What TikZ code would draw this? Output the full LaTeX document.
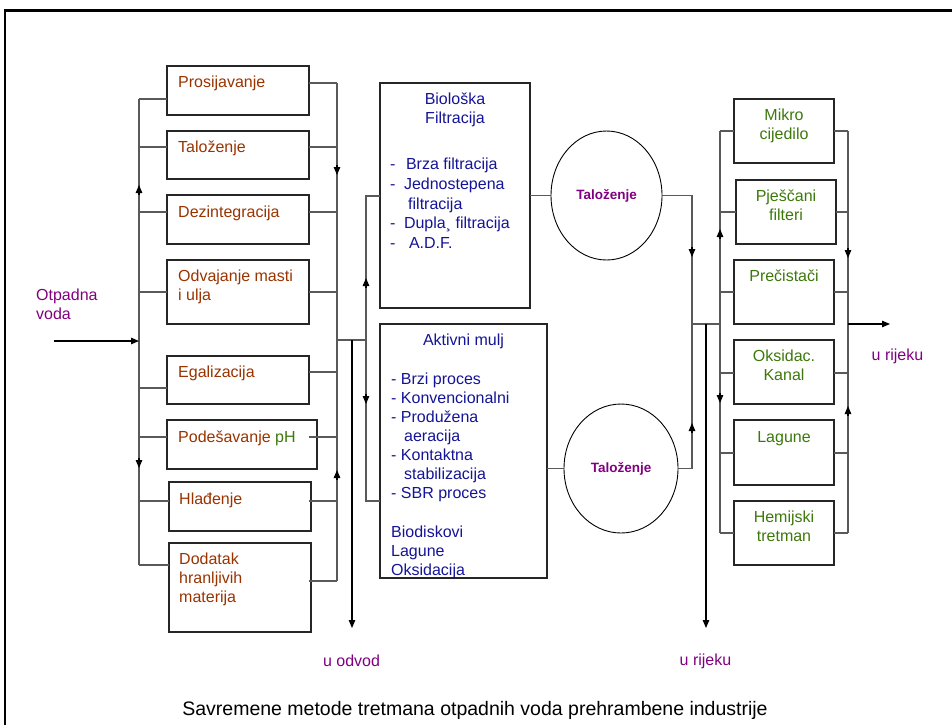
\documentclass[tikz,border=0pt]{standalone}
\usepackage{fontspec}
\setmainfont{Liberation Sans}
\usetikzlibrary{arrows.meta,shapes.geometric}
\definecolor{brn}{RGB}{153,51,0}
\definecolor{grn}{RGB}{60,120,10}
\definecolor{pur}{RGB}{128,0,128}
\definecolor{blu}{RGB}{20,20,150}
\newcommand\tstrut{\rule{0pt}{12pt}}
\begin{document}
\begin{tikzpicture}[x=1pt,y=-1pt,
  box/.style={draw=black!85, line width=1.1pt, inner sep=0pt, outer sep=0pt},
  ell/.style={ellipse, draw=black, line width=0.9pt, inner sep=0pt, outer sep=0pt, text=pur, font=\bfseries\fontsize{13.5}{15}\selectfont},
  conn/.style={draw=black!65, line width=1.1pt},
  arr/.style={draw=black, line width=1.1pt, -{Triangle[length=8pt,width=6.5pt]}},
  txt/.style={anchor=north west, inner sep=0pt, align=left, font=\fontsize{16}{19}\selectfont},
  ctxt/.style={anchor=north, inner sep=0pt, align=center, font=\fontsize{16}{19}\selectfont},
  lab/.style={inner sep=0pt, text=pur, font=\fontsize{16}{19}\selectfont}]
\useasboundingbox (0,0) rectangle (952,724);
% frame
\draw[line width=2.5pt, line join=miter] (4.8,740) -- (4.8,10.7) -- (970,10.7);

% ---------- left column boxes ----------
\node[box, minimum width=142, minimum height=49] (pros) at (238,90.5) {};
\node[box, minimum width=142, minimum height=48] (tal) at (238,155) {};
\node[box, minimum width=142, minimum height=49] (dez) at (238,219.5) {};
\node[box, minimum width=142, minimum height=64] (odv) at (238,292) {};
\node[box, minimum width=142, minimum height=48] (ega) at (238,380) {};
\node[box, minimum width=150, minimum height=49] (ph) at (242,444.5) {};
\node[box, minimum width=142, minimum height=49] (hla) at (240,506.5) {};
\node[box, minimum width=142, minimum height=89] (dod) at (240,587.5) {};

\node[txt, text=brn] (tpros) at (178,75.5) {\tstrut Prosijavanje};
\node[txt, text=brn] (ttal) at (178,140.5) {\tstrut Taloženje};
\node[txt, text=brn] (tdez) at (178,205.5) {\tstrut Dezintegracija};
\node[txt, text=brn] (todv) at (178,269.5) {\tstrut Odvajanje masti\\i ulja};
\node[txt, text=brn] (tega) at (178,365.5) {\tstrut Egalizacija};
\node[txt, text=brn] (tph) at (178,430.5) {\tstrut Podešavanje \textcolor{grn}{pH}};
\node[txt, text=brn] (thla) at (179,492.5) {\tstrut Hlađenje};
\node[txt, text=brn] (tdod) at (179,552.5) {\tstrut Dodatak\\hranljivih\\materija};

\node[txt, text=pur, font=\fontsize{16}{18.5}\selectfont] (otp) at (36,288.5) {\tstrut Otpadna\\voda};

% left bus
\coordinate (inS) at (54,341);
\coordinate (lbT) at (139,99);
\coordinate (lbB) at (139,565);
\draw[conn] (lbT) -- (lbB);
\draw[conn] (lbT) -- (pros.west |- lbT);
\draw[conn] (139,147) -- (tal.west |- 0,147);
\draw[conn] (139,212) -- (dez.west |- 0,212);
\draw[conn] (139,292) -- (odv.west |- 0,292);
\draw[conn] (139,388) -- (ega.west |- 0,388);
\draw[conn] (139,437) -- (ph.west |- 0,437);
\draw[conn] (139,501) -- (hla.west |- 0,501);
\draw[conn] (lbB) -- (dod.west |- lbB);
\draw[arr] (inS) -- (139,341);
\draw[arr] (139,195) -- (139,185);
\draw[arr] (139,458) -- (139,468);

% right bus
\coordinate (rbT) at (337,83);
\coordinate (rbB) at (337,581);
\draw[conn] (rbT) -- (rbB);
\draw[conn] (pros.east |- rbT) -- (rbT);
\draw[conn] (tal.east |- 0,147) -- (337,147);
\draw[conn] (dez.east |- 0,212) -- (337,212);
\draw[conn] (odv.east |- 0,292) -- (337,292);
\draw[conn] (ega.east |- 0,372) -- (337,372);
\draw[conn] ([xshift=-8pt]ph.east |- 0,437) -- (337,437);
\draw[conn] ([xshift=-2pt]hla.east |- 0,501) -- (337,501);
\draw[conn] ([xshift=-2pt]dod.east |- rbB) -- (rbB);
\draw[arr] (337,165) -- (337,175);
\draw[arr] (337,480) -- (337,470);

% junction and outlet to drain
\coordinate (j1) at (337,340);
\coordinate (j2) at (366,340);
\coordinate (odvE) at (352,628);
\draw[conn] (j1) -- (j2);
\draw[arr] (352,340) -- (odvE);
\node[lab] (uodv) at (351.5,661) {u odvod};

% ---------- middle ----------
\node[box, minimum width=150, minimum height=225] (bio) at (455,195.5) {};
\node[box, minimum width=167, minimum height=254] (akt) at (463.5,451) {};
\node[ctxt, text=blu] (tbio) at (455,92.5) {\tstrut Biološka\\Filtracija};
\node[txt, text=blu, font=\fontsize{16}{19.75}\selectfont] (lbio) at (390,157.5)
  {\tstrut -\hspace{10.5pt}Brza filtracija\\-\hspace{8.5pt}Jednostepena\\\hspace{18pt}filtracija\\-\hspace{8.5pt}Dupla¸ filtracija\\-\hspace{13.5pt}A.D.F.};
\node[ctxt, text=blu] (takt) at (463.5,333.5) {\tstrut Aktivni mulj};
\node[txt, text=blu] (lakt) at (391,372.5)
  {\tstrut - Brzi proces\\- Konvencionalni\\- Produžena\\\hspace{13pt}aeracija\\- Kontaktna\\\hspace{13pt}stabilizacija\\- SBR proces\\[20pt]Biodiskovi\\Lagune\\Oksidacija};

\draw[conn] (bio.west |- 0,196) -- (366,196) -- (366,501) -- (akt.west |- 0,501);
\draw[arr] (366,288) -- (366,278);
\draw[arr] (366,394) -- (366,404);

\node[ell, minimum width=111, minimum height=129] (tal1) at (606.5,195.5) {Taloženje};
\node[ell, minimum width=114, minimum height=129] (tal2) at (621,468.5) {Taloženje};
\draw[conn] (bio.east |- tal1.west) -- (tal1.west);
\draw[conn] (akt.east |- tal2.west) -- (tal2.west);
\draw[conn] (tal1.east) -- (692,195.5) -- (692,468.5) -- (tal2.east);
\draw[arr] (692,247) -- (692,257);
\draw[arr] (692,433) -- (692,423);

\coordinate (k1) at (692,324);
\coordinate (k2) at (720,324);
\coordinate (rijE) at (706,628);
\draw[conn] (k1) -- (k2);
\draw[arr] (706,324) -- (rijE);
\node[lab] (urij1) at (705.5,661) {u rijeku};

% ---------- right column ----------
\node[box, minimum width=100, minimum height=64] (mik) at (784,131) {};
\node[box, minimum width=100, minimum height=64] (pje) at (786,212) {};
\node[box, minimum width=100, minimum height=64] (pre) at (784,292) {};
\node[box, minimum width=100, minimum height=64] (oks) at (784,372) {};
\node[box, minimum width=100, minimum height=65] (lag) at (784,452.5) {};
\node[box, minimum width=100, minimum height=64] (hem) at (784,533) {};

\node[ctxt, text=grn] (tmik) at (784,108.5) {\tstrut Mikro\\cijedilo};
\node[ctxt, text=grn] (tpje) at (786,189.5) {\tstrut Pješčani\\filteri};
\node[ctxt, text=grn] (tpre) at (784,269.5) {\tstrut Prečistači};
\node[ctxt, text=grn] (toks) at (784,349.5) {\tstrut Oksidac.\\Kanal};
\node[ctxt, text=grn] (tlag) at (784,430.5) {\tstrut Lagune};
\node[ctxt, text=grn] (them) at (784,510.5) {\tstrut Hemijski\\tretman};

\draw[conn] (720,131) -- (720,533);
\draw[conn] (848,131) -- (848,533);
\foreach \b/\yy in {mik/131, pje/212, pre/292, oks/373, lag/453, hem/533}{
  \draw[conn] (720,\yy) -- (\b.west |- 0,\yy);
  \draw[conn] (\b.east |- 0,\yy) -- (848,\yy);
}
\draw[arr] (720,239) -- (720,229);
\draw[arr] (720,393) -- (720,403);
\draw[arr] (848,248) -- (848,258);
\draw[arr] (848,416) -- (848,406);

\coordinate (outE) at (890,324);
\draw[arr] (848,324) -- (outE);
\node[lab] (urij2) at (897.5,356) {u rijeku};

% caption
\node[inner sep=0pt, font=\fontsize{19.5}{23}\selectfont] (cap) at (475,710) {Savremene metode tretmana otpadnih voda prehrambene industrije};
\end{tikzpicture}
\end{document}
